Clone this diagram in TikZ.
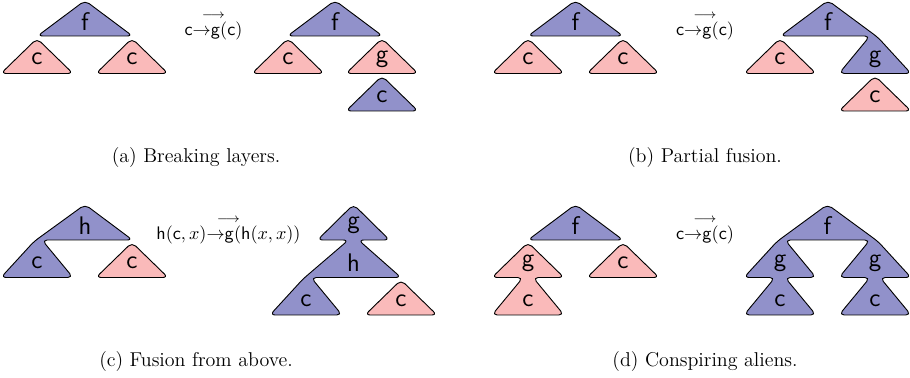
\documentclass[tikz,border=0pt]{standalone}
\usepackage{amsmath}
\definecolor{lblue}{RGB}{145,145,202}
\definecolor{lpink}{RGB}{250,186,186}
\newcommand{\trileaf}[3]{\draw[#3] (#1,#2-2) -- (#1+36,#2+33) -- (#1-36,#2+33) -- cycle;}
\newcommand{\tribin}[3]{\draw[#3] (#1,#2-2.5) -- (#1+47.5,#2+33) -- (#1-47.5,#2+33) -- cycle;}
\newcommand{\rto}{\mathord{\to}}
\begin{document}
\begin{tikzpicture}[x=0.55pt,y=-0.55pt,
  shp/.style={draw=black,line width=0.5pt,rounded corners=2.8pt,line join=round},
  bsh/.style={shp,fill=lblue},
  psh/.style={shp,fill=lpink},
  lbl/.style={font=\fontsize{14}{14}\selectfont\sffamily,inner sep=0pt,anchor=center},
  rulelbl/.style={inner sep=0pt,anchor=base},
  captxt/.style={inner sep=0pt,anchor=base,font=\fontsize{11}{13}\selectfont}]
\useasboundingbox (0,0) rectangle (910,378);
% ---------- (a) ----------
\tribin{85}{3}{bsh}
\trileaf{37}{40.5}{psh}
\trileaf{132}{40.5}{psh}
\node[lbl] (af) at (85,21.5) {f};
\node[lbl] (ac1) at (37,59) {c};
\node[lbl] (ac2) at (132,59) {c};
\node[rulelbl] (ra) at (213.5,35.5) {$\overset{\longrightarrow}{\mathsf{c}\rto\mathsf{g}(\mathsf{c})}$};
\tribin{335}{3}{bsh}
\trileaf{288}{40.5}{psh}
\trileaf{382}{40.5}{psh}
\trileaf{382}{78}{bsh}
\node[lbl] (af2) at (335,21.5) {f};
\node[lbl] (ac3) at (288,59) {c};
\node[lbl] (ag) at (382,59) {g};
\node[lbl] (ac4) at (382,96.5) {c};
\node[captxt] (capa) at (196,163) {(a) Breaking layers.};
% ---------- (b) ----------
\tribin{575.5}{3}{bsh}
\trileaf{528}{40.5}{psh}
\trileaf{623}{40.5}{psh}
\node[lbl] (bf) at (575.5,21.5) {f};
\node[lbl] (bc1) at (528,59) {c};
\node[lbl] (bc2) at (623,59) {c};
\node[rulelbl] (rb) at (705,35.5) {$\overset{\longrightarrow}{\mathsf{c}\rto\mathsf{g}(\mathsf{c})}$};
\draw[bsh] (828,0.5) -- (878,37.5) -- (911,73.5) -- (839,73.5) -- (870,36) -- (780.5,36) -- cycle;
\trileaf{780}{40.5}{psh}
\trileaf{875}{78}{psh}
\node[lbl] (bf2) at (828,21.5) {f};
\node[lbl] (bg) at (875,59) {g};
\node[lbl] (bc3) at (780,59) {c};
\node[lbl] (bc4) at (875,96.5) {c};
\node[captxt] (capb) at (705,163) {(b) Partial fusion.};
% ---------- (c) ----------
\draw[bsh] (85,204.5) -- (132.5,240) -- (42,240) -- (73,277.5) -- (1,277.5) -- (34,241.5) -- cycle;
\trileaf{132}{244.5}{psh}
\node[lbl] (ch) at (85,225.5) {h};
\node[lbl] (cc1) at (37,263) {c};
\node[lbl] (cc2) at (132,263) {c};
\node[rulelbl] (rc) at (228.5,239.5) {$\overset{\longrightarrow}{\mathsf{h}(\mathsf{c},x)\rto\mathsf{g}(\mathsf{h}(x,x))}$};
\draw[bsh] (353.5,204.5) -- (389.5,240) -- (358.5,240) -- (401,277.5) -- (311,277.5) -- (342,315) -- (270,315) -- (303,279) -- (348.5,240) -- (317.5,240) -- cycle;
\trileaf{401}{282}{psh}
\node[lbl] (cg) at (353.5,225.5) {g};
\node[lbl] (ch2) at (353.5,263) {h};
\node[lbl] (cc3) at (306,300.5) {c};
\node[lbl] (cc4) at (401,300.5) {c};
\node[captxt] (capc) at (196,366) {(c) Fusion from above.};
% ---------- (d) ----------
\tribin{575.5}{207}{bsh}
\draw[psh] (528,242.5) -- (564,277.5) -- (533,277.5) -- (564,315) -- (492,315) -- (523,277.5) -- (492,277.5) -- cycle;
\trileaf{623}{244.5}{psh}
\node[lbl] (df) at (575.5,225.5) {f};
\node[lbl] (dg) at (528,263) {g};
\node[lbl] (dc1) at (528,300.5) {c};
\node[lbl] (dc2) at (623,263) {c};
\node[rulelbl] (rd) at (705,239.5) {$\overset{\longrightarrow}{\mathsf{c}\rto\mathsf{g}(\mathsf{c})}$};
\draw[bsh] (827.5,204.5) -- (878,241.5) -- (911,277.5) -- (880,277.5) -- (911,315) -- (839,315) -- (870,277.5) -- (839,277.5) -- (870,240) -- (785,240) -- (816,277.5) -- (785,277.5) -- (816,315) -- (744,315) -- (775,277.5) -- (744,277.5) -- (777,241.5) -- cycle;
\node[lbl] (df2) at (827.5,225.5) {f};
\node[lbl] (dg1) at (780,263) {g};
\node[lbl] (dg2) at (875,263) {g};
\node[lbl] (dc3) at (780,300.5) {c};
\node[lbl] (dc4) at (875,300.5) {c};
\node[captxt] (capd) at (705,366) {(d) Conspiring aliens.};
\end{tikzpicture}
\end{document}
